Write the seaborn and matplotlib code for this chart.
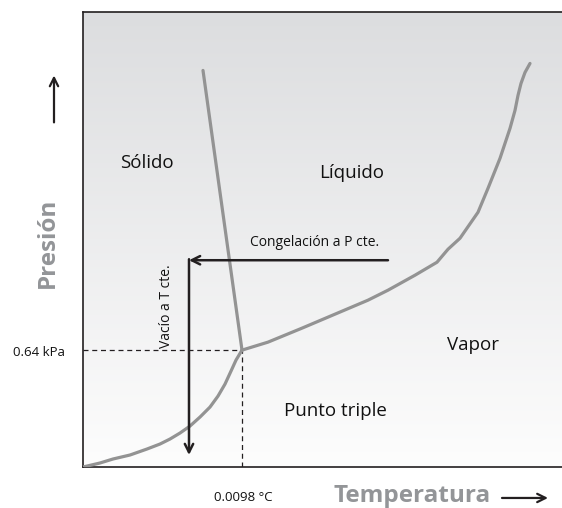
import numpy as np
import matplotlib
matplotlib.use('Agg')
import matplotlib.pyplot as plt
import seaborn as sns
from matplotlib.colors import LinearSegmentedColormap

# Phase diagram curves (arbitrary temperature / pressure units)
fusion_t = [120, 159]
fusion_p = [397, 117]

subl_t = [0, 17, 30, 47, 64, 77, 87, 97, 107, 117, 127, 135, 142, 148, 153, 159]
subl_p = [0, 4, 8, 12, 18, 23, 28, 34, 41, 50, 60, 71, 83, 96, 107, 117]

vap_t = [159, 185, 219, 252, 285, 305, 332, 354, 365, 377, 395, 405, 417, 427, 432, 435, 438, 442, 447]
vap_p = [117, 125, 139, 153, 167, 177, 192, 205, 218, 229, 255, 279, 309, 339, 357, 372, 384, 395, 404]

triple_t = 159
triple_p = 117

# process arrows (start -> end)
freeze_t = [305, 106]
freeze_p = [207, 207]
vacuum_t = [106, 106]
vacuum_p = [207, 12]

region_labels = ['Sólido', 'Líquido', 'Vapor', 'Punto triple']
region_t = [64, 269, 390, 252]
region_p = [299, 289, 117, 51]

sns.set_style('white')
plt.rcParams['font.family'] = ['Open Sans', 'DejaVu Sans']

fig = plt.figure(figsize=(5.62, 5.08), dpi=100)
ax = fig.add_axes([83 / 562, 41 / 508, 479 / 562, 455.5 / 508])
ax.set_xlim(0, 479)
ax.set_ylim(0, 456)

# gray-to-white background gradient
grad = np.linspace(0, 1, 256).reshape(-1, 1)
cmap = LinearSegmentedColormap.from_list('bg', ['#fdfdfd', '#dcdddf'])
ax.imshow(grad, extent=[0, 479, 0, 456], origin='lower', aspect='auto', cmap=cmap, zorder=0)

curve_col = '#939393'
ink = '#231f20'

sns.lineplot(x=fusion_t, y=fusion_p, sort=False, estimator=None, color=curve_col, lw=2.3, ax=ax, zorder=3)
sns.lineplot(x=subl_t, y=subl_p, sort=False, estimator=None, color=curve_col, lw=2.3, ax=ax, zorder=3)
sns.lineplot(x=vap_t, y=vap_p, sort=False, estimator=None, color=curve_col, lw=2.3, ax=ax, zorder=3)

# dashed guides to the triple point
ax.plot([0, triple_t], [triple_p, triple_p], ls=(0, (4, 3)), color=ink, lw=0.9, zorder=2)
ax.plot([triple_t, triple_t], [0, triple_p], ls=(0, (4, 3)), color=ink, lw=0.9, zorder=2)

arrow = dict(arrowstyle='->', color=ink, lw=1.8, shrinkA=0, shrinkB=0, mutation_scale=15)
ax.annotate('', xy=(freeze_t[1], freeze_p[1]), xytext=(freeze_t[0], freeze_p[0]), arrowprops=arrow, zorder=4)
ax.annotate('', xy=(vacuum_t[1], vacuum_p[1]), xytext=(vacuum_t[0], vacuum_p[0] + 1), arrowprops=arrow, zorder=4)

for lab, t, p in zip(region_labels, region_t, region_p):
    ax.text(t, p, lab, ha='center', va='baseline', fontsize=13.5, color='#111111')

ax.text(232, 221, 'Congelación a P cte.', ha='center', va='baseline', fontsize=10, color='#111111')
ax.text(84, 161, 'Vacío a T cte.', ha='center', va='center', rotation=90, fontsize=10, color='#111111')

# labels outside the box
ax.text(-44, 111, '0.64 kPa', ha='center', va='baseline', fontsize=9.5, color='#111111', clip_on=False)
ax.text(160, -34, '0.0098 °C', ha='center', va='baseline', fontsize=9.5, color='#111111', clip_on=False)
ax.text(329, -35, 'Temperatura', ha='center', va='baseline', fontsize=17.5, fontweight='bold',
        color='#939598', clip_on=False)
ax.text(-35, 224, 'Presión', ha='center', va='center', rotation=90, fontsize=17.5, fontweight='bold',
        color='#939598', clip_on=False)
ax.annotate('', xy=(465, -31), xytext=(419, -31), arrowprops=dict(arrow, lw=1.6), annotation_clip=False)
ax.annotate('', xy=(-29, 392), xytext=(-29, 345), arrowprops=dict(arrow, lw=1.6), annotation_clip=False)

ax.set_xticks([])
ax.set_yticks([])
for side in ['left', 'top', 'bottom']:
    ax.spines[side].set_color(ink)
    ax.spines[side].set_linewidth(1.2)
ax.spines['right'].set_visible(False)

fig.savefig('out.png', dpi=100)
